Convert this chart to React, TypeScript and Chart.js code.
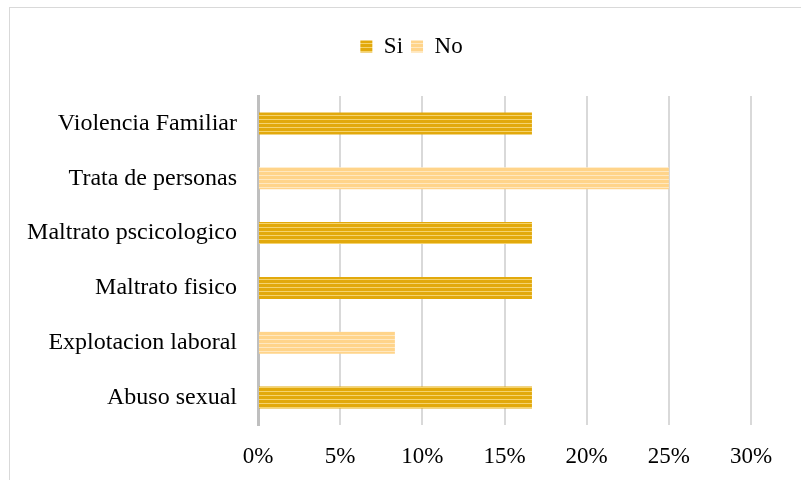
import React, { useEffect, useRef } from "react";
import { Chart, registerables } from "chart.js";

Chart.register(...registerables);

const categories = [
  "Violencia Familiar",
  "Trata de personas",
  "Maltrato pscicologico",
  "Maltrato fisico",
  "Explotacion laboral",
  "Abuso sexual",
];
const siValues: (number | null)[] = [16.67, null, 16.67, 16.67, null, 16.67];
const noValues: (number | null)[] = [null, 25, null, null, 8.33, null];
const seriesNames = ["Si", "No"];
const xTickMax = 30;
const xTickStep = 5;

function makeStripes(dark: string, light: string): CanvasPattern | string {
  const c = document.createElement("canvas");
  c.width = 8;
  c.height = 4;
  const ctx = c.getContext("2d");
  if (!ctx) return dark;
  ctx.fillStyle = dark;
  ctx.fillRect(0, 0, 8, 4);
  ctx.fillStyle = light;
  ctx.fillRect(0, 3, 8, 1.2);
  const p = ctx.createPattern(c, "repeat");
  return p || dark;
}

const legendSpacer = {
  id: "legendSpacer",
  beforeInit(chart: any) {
    const legend = chart.legend;
    if (!legend) return;
    const orig = legend.fit;
    legend.fit = function () {
      orig.call(this);
      this.height += 28;
    };
  },
  afterLayout(chart: any) {
    const legend = chart.legend;
    if (!legend) return;
    legend.left += 36;
    legend.right += 36;
  },
};

export default function App() {
  const ref = useRef<HTMLCanvasElement | null>(null);
  useEffect(() => {
    if (!ref.current) return;
    const siFill = makeStripes("#E2A90C", "#F5D36E");
    const noFill = makeStripes("#FFD48A", "#FFE8C0");
    const family = "'Liberation Serif', 'Times New Roman', serif";
    const catFont = { family, size: 24 };
    const tickFont = { family, size: 23 };
    const legendFont = { family, size: 23 };
    const chart = new Chart(ref.current, {
      type: "bar",
      data: {
        labels: categories,
        datasets: [
          { label: seriesNames[0], data: siValues, backgroundColor: siFill as any, borderWidth: 0 },
          { label: seriesNames[1], data: noValues, backgroundColor: noFill as any, borderWidth: 0 },
        ],
      },
      plugins: [legendSpacer],
      options: {
        indexAxis: "y",
        animation: false,
        responsive: false,
        layout: { padding: { left: 0, right: 50, top: 27, bottom: 0 } },
        datasets: { bar: { barPercentage: 0.4, categoryPercentage: 1 } },
        plugins: {
          tooltip: { enabled: false },
          legend: {
            position: "top",
            labels: {
              font: legendFont,
              color: "#000",
              boxWidth: 12,
              boxHeight: 12,
              padding: 8,
            },
          },
        },
        scales: {
          x: {
            min: 0,
            max: xTickMax,
            stacked: true,
            ticks: {
              stepSize: xTickStep,
              font: tickFont,
              color: "#000",
              padding: 18,
              callback: (v: any) => v + "%",
            },
            grid: { color: "#d9d9d9", lineWidth: 2, drawTicks: false },
            border: { display: false },
            afterFit: (s: any) => {
              s.height = 55;
            },
          },
          y: {
            stacked: true,
            ticks: { font: catFont, color: "#000", padding: 21 },
            grid: { color: "transparent", drawTicks: false },
            border: { display: true, color: "#bfbfbf", width: 3 },
            afterFit: (s: any) => {
              s.width = 258;
            },
          },
        },
      },
    });
    return () => chart.destroy();
  }, []);
  return (
    <div style={{ position: "fixed", left: 0, top: 0, width: 801, height: 480, background: "#fff", overflow: "hidden" }}>
      <div
        style={{
          position: "absolute",
          left: 9,
          top: 7,
          width: 820,
          height: 500,
          border: "1px solid #d9d9d9",
          boxSizing: "border-box",
        }}
      />
      <canvas ref={ref} width={801} height={480} style={{ position: "absolute", left: 0, top: 0 }} />
    </div>
  );
}
